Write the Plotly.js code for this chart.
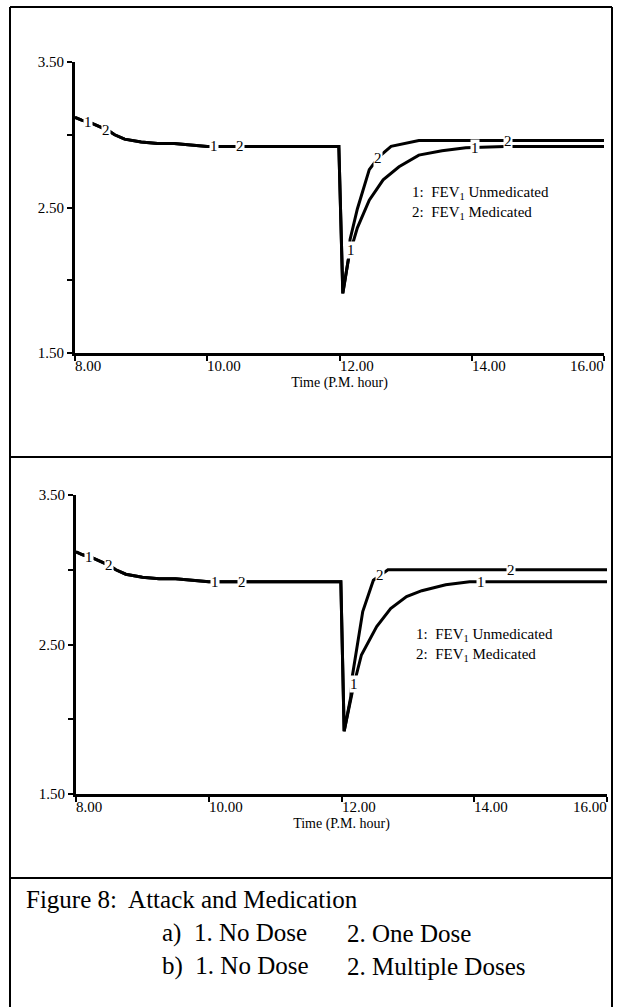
<!DOCTYPE html>
<html>
<head>
<meta charset="utf-8">
<script src="https://cdn.plot.ly/plotly-3.0.1.min.js"></script>
<style>html,body{margin:0;padding:0;background:#fff;}#chart{width:619px;height:1007px;}</style>
</head>
<body>
<div id="chart"></div>
<script>
// ---------- DATA ----------
// Panel a) 1. No Dose, 2. One Dose
const timeA1 = [8.0, 8.1, 8.25, 8.4, 8.5, 8.6, 8.75, 9.0, 9.25, 9.5, 9.7, 10.0, 11.0, 11.99, 12.05, 12.14, 12.27, 12.45, 12.66, 12.9, 13.2, 13.55, 13.91, 14.5, 16.0];
const fevA1  = [3.12, 3.10, 3.08, 3.05, 3.03, 3.00, 2.97, 2.95, 2.94, 2.94, 2.93, 2.92, 2.92, 2.92, 1.91, 2.16, 2.36, 2.55, 2.69, 2.78, 2.86, 2.89, 2.91, 2.92, 2.92];
const timeA2 = [8.0, 8.1, 8.25, 8.4, 8.5, 8.6, 8.75, 9.0, 9.25, 9.5, 9.7, 10.0, 11.0, 11.99, 12.05, 12.14, 12.16, 12.27, 12.45, 12.6, 12.78, 13.0, 13.2, 14.5, 16.0];
const fevA2  = [3.12, 3.10, 3.08, 3.05, 3.03, 3.00, 2.97, 2.95, 2.94, 2.94, 2.93, 2.92, 2.92, 2.92, 1.91, 2.16, 2.28, 2.49, 2.76, 2.85, 2.92, 2.94, 2.96, 2.96, 2.96];
// Panel b) 1. No Dose, 2. Multiple Doses
const timeB1 = [8.0, 8.1, 8.25, 8.4, 8.5, 8.6, 8.75, 9.0, 9.25, 9.5, 9.7, 10.0, 11.0, 11.99, 12.04, 12.14, 12.18, 12.3, 12.53, 12.74, 12.98, 13.21, 13.57, 13.93, 16.0];
const fevB1  = [3.12, 3.10, 3.08, 3.05, 3.03, 3.00, 2.97, 2.95, 2.94, 2.94, 2.93, 2.92, 2.92, 2.92, 1.92, 2.15, 2.22, 2.43, 2.62, 2.74, 2.82, 2.86, 2.90, 2.92, 2.92];
const timeB2 = [8.0, 8.1, 8.25, 8.4, 8.5, 8.6, 8.75, 9.0, 9.25, 9.5, 9.7, 10.0, 11.0, 11.99, 12.04, 12.14, 12.16, 12.32, 12.48, 12.7, 16.0];
const fevB2  = [3.12, 3.10, 3.08, 3.05, 3.03, 3.00, 2.97, 2.95, 2.94, 2.94, 2.93, 2.92, 2.92, 2.92, 1.92, 2.15, 2.28, 2.72, 2.93, 3.00, 3.00];

// curve label positions (hours) along each line
const labelXA1 = [8.2, 10.1, 12.17, 14.05];
const labelXA2 = [8.47, 10.5, 12.58, 14.55];
const labelXB1 = [8.2, 10.1, 12.19, 14.1];
const labelXB2 = [8.5, 10.5, 12.58, 14.55];

const xTickVals = [8, 10, 12, 14, 16];
const xTickText = ['8.00', '10.00', '12.00', '14.00', '16.00'];
const yTickVals = [1.5, 2.5, 3.5];
const yTickText = ['1.50', '2.50', '3.50'];
const yMinorTickVals = [2.0, 3.0];

const legendText = ['1:  FEV<sub>1</sub> Unmedicated', '2:  FEV<sub>1</sub> Medicated'];
const xTitle = 'Time (P.M. hour)';
const captionTitle = 'Figure 8:  Attack and Medication';
const captionA = ['a)  1. No Dose', '2. One Dose'];
const captionB = ['b)  1. No Dose', '2. Multiple Doses'];

// ---------- HELPERS ----------
const W = 619, H = 1007;
const SERIF = 'Liberation Serif, Times New Roman, serif';
function interp(xs, ys, x) {
  for (let i = 0; i < xs.length - 1; i++) {
    if (x >= xs[i] && x <= xs[i + 1]) {
      const f = (x - xs[i]) / (xs[i + 1] - xs[i]);
      return ys[i] + f * (ys[i + 1] - ys[i]);
    }
  }
  return ys[ys.length - 1];
}
const px = v => v / W;
const py = v => 1 - v / H;

function lineTrace(x, y, xa, ya) {
  return {x: x, y: y, xaxis: xa, yaxis: ya, type: 'scatter', mode: 'lines',
          line: {color: '#000', width: 3}, hoverinfo: 'skip', showlegend: false};
}
const traces = [
  lineTrace(timeA1, fevA1, 'x', 'y'),
  lineTrace(timeA2, fevA2, 'x', 'y'),
  lineTrace(timeB1, fevB1, 'x2', 'y2'),
  lineTrace(timeB2, fevB2, 'x2', 'y2')
];

const annotations = [];
function curveLabels(xsArr, xs, ys, txt, xr, yr) {
  xsArr.forEach(lx => {
    annotations.push({x: lx, y: interp(xs, ys, lx), xref: xr, yref: yr, text: txt,
      showarrow: false, bgcolor: '#fff', borderpad: 0,
      font: {family: SERIF, size: 15, color: '#000'}});
  });
}
curveLabels(labelXA1, timeA1, fevA1, '1', 'x', 'y');
curveLabels(labelXA2, timeA2, fevA2, '2', 'x', 'y');
curveLabels(labelXB1, timeB1, fevB1, '1', 'x2', 'y2');
curveLabels(labelXB2, timeB2, fevB2, '2', 'x2', 'y2');

function xTickLabels(xr, yr) {
  xTickVals.forEach((v, i) => {
    const last = i === xTickVals.length - 1;
    annotations.push({x: v, y: 0, xref: xr, yref: yr + ' domain', text: xTickText[i],
      showarrow: false, xanchor: last ? 'right' : 'left', yanchor: 'top',
      xshift: last ? 2 : -2, yshift: -3,
      font: {family: SERIF, size: 15, color: '#000'}});
  });
}
xTickLabels('x', 'y');
xTickLabels('x2', 'y2');

function legendBlock(x0, y0) {
  legendText.forEach((t, i) => {
    annotations.push({x: px(x0), y: py(y0 + i * 20), xref: 'paper', yref: 'paper', text: t,
      showarrow: false, xanchor: 'left', yanchor: 'middle',
      font: {family: SERIF, size: 15, color: '#000'}});
  });
}
legendBlock(410, 193);
legendBlock(414, 635);

// caption
const CAP = 25;
annotations.push({x: px(24), y: py(899), xref: 'paper', yref: 'paper', text: captionTitle,
  showarrow: false, xanchor: 'left', yanchor: 'middle', font: {family: SERIF, size: CAP, color: '#000'}});
[[captionA, 933], [captionB, 966]].forEach(([c, yy]) => {
  annotations.push({x: px(160), y: py(yy), xref: 'paper', yref: 'paper', text: c[0],
    showarrow: false, xanchor: 'left', yanchor: 'middle', font: {family: SERIF, size: CAP, color: '#000'}});
  annotations.push({x: px(345), y: py(yy), xref: 'paper', yref: 'paper', text: c[1],
    showarrow: false, xanchor: 'left', yanchor: 'middle', font: {family: SERIF, size: CAP, color: '#000'}});
});

function xAxis(domain, anchor) {
  return {domain: domain, anchor: anchor, range: [8, 16], tickmode: 'array', tickvals: xTickVals, ticktext: xTickText,
    showticklabels: false, ticks: 'outside', ticklen: 5, tickwidth: 2, tickcolor: '#000',
    title: {text: xTitle, standoff: 18, font: {family: SERIF, size: 14, color: '#000'}},
    automargin: false,
    showline: true, linewidth: 3, linecolor: '#000', showgrid: false, zeroline: false, fixedrange: true};
}
function yAxis(domain, anchor) {
  return {domain: domain, anchor: anchor, range: [1.5, 3.5], tickmode: 'array', tickvals: yTickVals, ticktext: yTickText,
    ticks: 'outside', ticklen: 5, tickwidth: 2, tickcolor: '#000',
    minor: {tickmode: 'array', tickvals: yMinorTickVals, ticks: 'outside', ticklen: 5, tickwidth: 2, tickcolor: '#000', showgrid: false},
    showline: true, linewidth: 3, linecolor: '#000', showgrid: false, zeroline: false, fixedrange: true,
    tickfont: {family: SERIF, size: 15, color: '#000'}};
}

const frame = {type: 'line', xref: 'paper', yref: 'paper', line: {color: '#000', width: 2}};
const shapes = [
  Object.assign({}, frame, {x0: px(10), x1: px(10), y0: py(7), y1: py(1007)}),
  Object.assign({}, frame, {x0: px(612), x1: px(612), y0: py(7), y1: py(1007)}),
  Object.assign({}, frame, {x0: px(10), x1: px(612), y0: py(7), y1: py(7)}),
  Object.assign({}, frame, {x0: px(10), x1: px(612), y0: py(457), y1: py(457)}),
  Object.assign({}, frame, {x0: px(10), x1: px(612), y0: py(878), y1: py(878)})
];

const layout = {
  width: W, height: H, margin: {l: 0, r: 0, t: 0, b: 0},
  paper_bgcolor: '#fff', plot_bgcolor: 'rgba(0,0,0,0)', showlegend: false,
  xaxis: xAxis([px(75), px(604)], 'y'),
  yaxis: yAxis([py(353), py(62)], 'x'),
  xaxis2: xAxis([px(76), px(607)], 'y2'),
  yaxis2: yAxis([py(794), py(495)], 'x2'),
  annotations: annotations,
  shapes: shapes,
  font: {family: SERIF, color: '#000'}
};

Plotly.newPlot('chart', traces, layout, {displayModeBar: false, staticPlot: true});
</script>
</body>
</html>
